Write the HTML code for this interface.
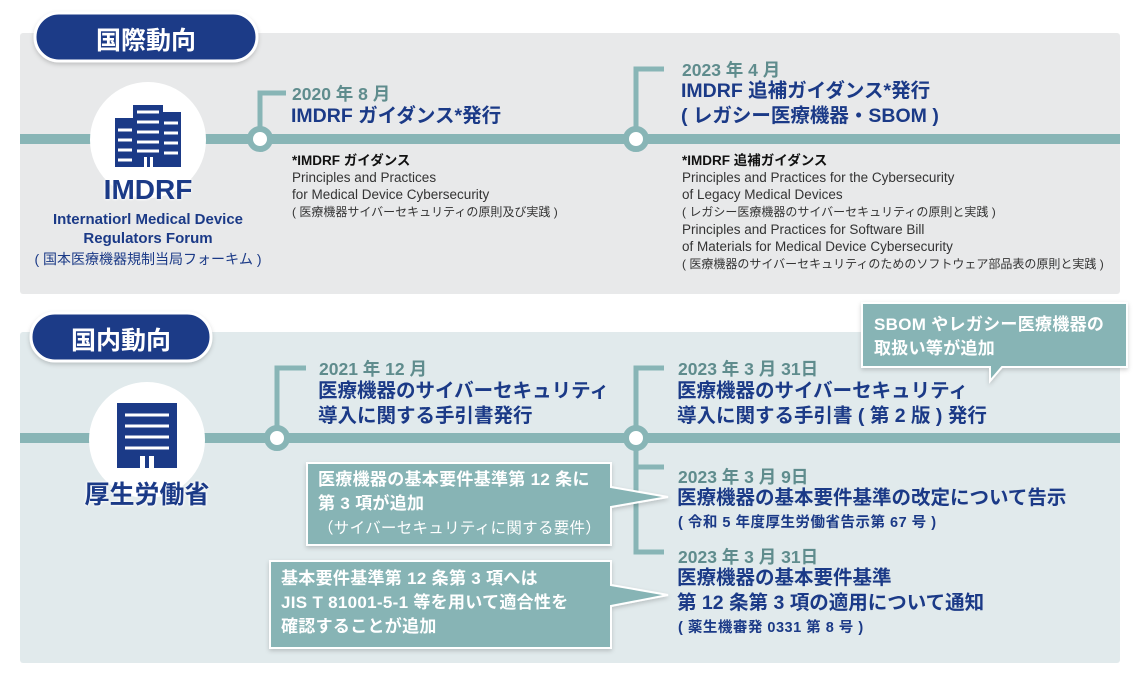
<!DOCTYPE html>
<html><head><meta charset="utf-8"><style>
body{margin:0;width:1140px;height:684px;background:#fff;position:relative;overflow:hidden;font-family:"Liberation Sans","Noto Sans CJK JP",sans-serif;}
.t{position:absolute;white-space:nowrap;}
.date{color:#5f8c8d;font-weight:bold;font-size:17.5px;}
.h{color:#1b3a87;font-weight:bold;font-size:19.5px;line-height:25px;}
.note{color:#333;font-size:13.5px;line-height:17px;}
.note .j{font-size:12px;}
.sm{color:#1b3a87;font-weight:bold;font-size:14.5px;letter-spacing:0.5px;}
.cw{color:#fff;font-size:17px;line-height:24px;font-weight:bold;letter-spacing:0.3px;}
svg{position:absolute;left:0;top:0;}
</style></head><body>
<svg width="1140" height="684">
<defs><filter id="sh" x="-20%" y="-20%" width="140%" height="160%"><feDropShadow dx="0" dy="2" stdDeviation="2" flood-color="#000" flood-opacity="0.18"/></filter></defs>
<rect x="20" y="33" width="1100" height="261" rx="3" fill="#e8e9ea"/>
<rect x="20" y="332" width="1100" height="331" rx="3" fill="#e1eaec"/>
<rect x="20" y="134" width="1100" height="10" fill="#88b5b6"/>
<path d="M260 139 V93 H286" stroke="#88b5b6" stroke-width="5" fill="none"/>
<path d="M636 139 V69 H664" stroke="#88b5b6" stroke-width="5" fill="none"/>
<circle cx="260" cy="139" r="10" fill="#fff" stroke="#88b5b6" stroke-width="6"/>
<circle cx="636" cy="139" r="10" fill="#fff" stroke="#88b5b6" stroke-width="6"/>
<circle cx="148" cy="140" r="58" fill="#fff"/>
<g fill="#1b3a87">
<rect x="115" y="118" width="20" height="49"/><rect x="133" y="105" width="30" height="62"/><rect x="161" y="112" width="20" height="55"/>
</g>
<g stroke="#fff" stroke-width="3">
<line x1="118" y1="130" x2="132" y2="130"/><line x1="118" y1="140" x2="132" y2="140"/><line x1="118" y1="150" x2="132" y2="150"/><line x1="118" y1="160" x2="132" y2="160"/>
<line x1="137" y1="112" x2="159" y2="112"/><line x1="137" y1="122" x2="159" y2="122"/><line x1="137" y1="132" x2="159" y2="132"/><line x1="137" y1="142" x2="159" y2="142"/><line x1="137" y1="151" x2="159" y2="151"/>
<line x1="164" y1="123" x2="178" y2="123"/><line x1="164" y1="133" x2="178" y2="133"/><line x1="164" y1="143" x2="178" y2="143"/><line x1="164" y1="153" x2="178" y2="153"/>
</g>
<rect x="144" y="157" width="3" height="10" fill="#fff"/><rect x="150" y="157" width="3" height="10" fill="#fff"/>
<rect x="20" y="433" width="1100" height="10" fill="#88b5b6"/>
<path d="M277 438 V368 H306" stroke="#88b5b6" stroke-width="5" fill="none"/>
<path d="M636 438 V368 H664" stroke="#88b5b6" stroke-width="5" fill="none"/>
<path d="M636 438 V552 H664 M636 467 H664" stroke="#88b5b6" stroke-width="5" fill="none"/>
<circle cx="277" cy="438" r="10" fill="#fff" stroke="#88b5b6" stroke-width="6"/>
<circle cx="636" cy="438" r="10" fill="#fff" stroke="#88b5b6" stroke-width="6"/>
<circle cx="147" cy="440" r="58" fill="#fff"/>
<rect x="117" y="403" width="60" height="65" fill="#1b3a87"/>
<g stroke="#fff" stroke-width="3"><line x1="125" y1="415" x2="169" y2="415"/><line x1="125" y1="426" x2="169" y2="426"/><line x1="125" y1="437" x2="169" y2="437"/><line x1="125" y1="448" x2="169" y2="448"/></g>
<rect x="140" y="456" width="5" height="12" fill="#fff"/><rect x="149" y="456" width="5" height="12" fill="#fff"/>
<path d="M862 303 H1127 V367 H1002 L990 381 L990 367 H862 Z" fill="#87b4b5" stroke="#fff" stroke-width="2" filter="url(#sh)"/>
<path d="M307 463 H611 V487 L668 497 L611 507 V545 H307 Z" fill="#87b4b5" stroke="#fff" stroke-width="2" filter="url(#sh)"/>
<path d="M270 561 H611 V585 L668 595 L611 606 V648 H270 Z" fill="#87b4b5" stroke="#fff" stroke-width="2" filter="url(#sh)"/>
<rect x="35" y="13" width="222" height="48" rx="24" fill="#1b3a87" stroke="#fff" stroke-width="3" filter="url(#sh)"/>
<rect x="31" y="313" width="180" height="48" rx="24" fill="#1b3a87" stroke="#fff" stroke-width="3" filter="url(#sh)"/>
</svg>
<div class="t" style="left:35px;top:21px;width:222px;text-align:center;color:#fff;font-weight:bold;font-size:25px;">国際動向</div>
<div class="t" style="left:31px;top:321px;width:180px;text-align:center;color:#fff;font-weight:bold;font-size:25px;">国内動向</div>

<div class="t" style="left:48px;top:174px;width:200px;text-align:center;color:#1b3a87;font-weight:bold;font-size:28px;text-shadow:0 0 3px #fff,0 0 3px #fff;">IMDRF</div>
<div class="t" style="left:8px;top:210px;width:280px;text-align:center;color:#1b3a87;font-weight:bold;font-size:15px;line-height:19px;">Internatiorl Medical Device<br>Regulators Forum</div>
<div class="t" style="left:8px;top:249px;width:280px;text-align:center;color:#1b3a87;font-size:14px;">( 国本医療機器規制当局フォーキム )</div>
<div class="t" style="left:47px;top:475px;width:200px;text-align:center;color:#1b3a87;font-weight:bold;font-size:25px;text-shadow:0 0 3px #fff,0 0 3px #fff;">厚生労働省</div>

<div class="t date" style="left:292px;top:81px;">2020 年 8 月</div>
<div class="t h" style="left:291px;top:104px;">IMDRF ガイダンス*発行</div>
<div class="t note" style="left:292px;top:152px;"><span style="color:#111;font-weight:bold;">*IMDRF ガイダンス</span><br>Principles and Practices<br>for Medical Device Cybersecurity<br><span class="j">( 医療機器サイバーセキュリティの原則及び実践 )</span></div>

<div class="t date" style="left:682px;top:57px;">2023 年 4 月</div>
<div class="t h" style="left:681px;top:79px;">IMDRF 追補ガイダンス*発行<br>( レガシー医療機器・SBOM )</div>
<div class="t note" style="left:682px;top:152px;"><span style="color:#111;font-weight:bold;">*IMDRF 追補ガイダンス</span><br>Principles and Practices for the Cybersecurity<br>of Legacy Medical Devices<br><span class="j">( レガシー医療機器のサイバーセキュリティの原則と実践 )</span><br>Principles and Practices for Software Bill<br>of Materials for Medical Device Cybersecurity<br><span class="j">( 医療機器のサイバーセキュリティのためのソフトウェア部品表の原則と実践 )</span></div>

<div class="t date" style="left:319px;top:356px;">2021 年 12 月</div>
<div class="t h" style="left:318px;top:379px;">医療機器のサイバーセキュリティ<br>導入に関する手引書発行</div>

<div class="t date" style="left:678px;top:356px;">2023 年 3 月 31日</div>
<div class="t h" style="left:677px;top:379px;">医療機器のサイバーセキュリティ<br>導入に関する手引書 ( 第 2 版 ) 発行</div>

<div class="t date" style="left:678px;top:464px;">2023 年 3 月 9日</div>
<div class="t h" style="left:677px;top:486px;">医療機器の基本要件基準の改定について告示</div>
<div class="t sm" style="left:678px;top:511px;">( 令和 5 年度厚生労働省告示第 67 号 )</div>

<div class="t date" style="left:678px;top:544px;">2023 年 3 月 31日</div>
<div class="t h" style="left:677px;top:566px;">医療機器の基本要件基準<br>第 12 条第 3 項の適用について通知</div>
<div class="t sm" style="left:678px;top:616px;">( 薬生機審発 0331 第 8 号 )</div>

<div class="t cw" style="left:874px;top:313px;">SBOM やレガシー医療機器の<br>取扱い等が追加</div>
<div class="t cw" style="left:318px;top:468px;">医療機器の基本要件基準第 12 条に<br>第 3 項が追加<br><span style="font-weight:normal;font-size:15.5px;">（サイバーセキュリティに関する要件）</span></div>
<div class="t cw" style="left:281px;top:567px;">基本要件基準第 12 条第 3 項へは<br>JIS T 81001-5-1 等を用いて適合性を<br>確認することが追加</div>
</body></html>
